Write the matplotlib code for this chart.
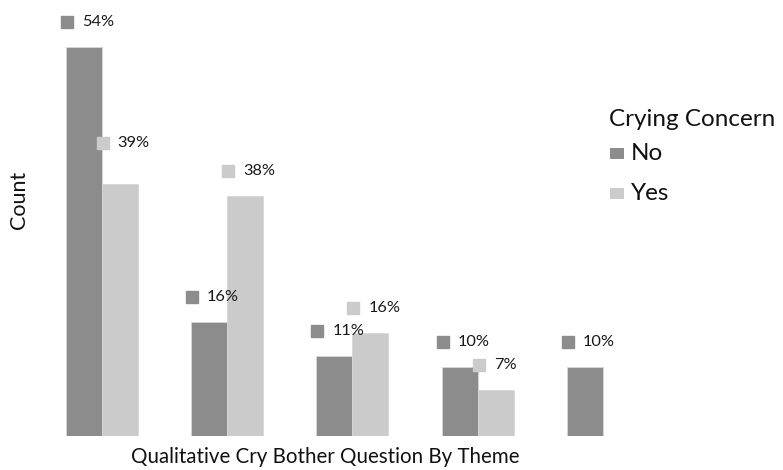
import matplotlib.pyplot as plt
from matplotlib.transforms import offset_copy
from matplotlib.patches import Rectangle
import numpy as np

plt.rcParams['font.family'] = ['Lato', 'DejaVu Sans']

# counts per theme for each concern group
themes = ['1', '2', '3', '4', '5']
no_counts = [34, 10, 7, 6, 6]
yes_counts = [22, 21, 9, 4, 0]
series = [('No', no_counts, '#8c8c8c'), ('Yes', yes_counts, '#cbcbcb')]

W, H = 783, 470
fig = plt.figure(figsize=(W / 100, H / 100), dpi=100)
ax = fig.add_axes([0.0498, 0.0723, 0.8006, 0.881])

x = np.arange(len(themes))
w = 0.287

for k, (name, counts, col) in enumerate(series):
    pos = x - w / 2 + k * w
    ax.bar(pos, counts, width=w, color=col, edgecolor='#d6d6d6', linewidth=0.6)
    total = sum(counts)
    for i, c in enumerate(counts):
        if c == 0:
            continue
        pct = round(c / total * 100)
        lift = 30 if (k == 1 and i == 0) else 18
        left = pos[i] - w / 2
        sq = offset_copy(ax.transData, fig=fig, x=0.7, y=lift, units='points')
        ax.plot([left], [c], marker='s', markersize=8, color=col,
                transform=sq, clip_on=False)
        ax.annotate(f'{pct}%', (left, c), xytext=(11.5, lift),
                    textcoords='offset points', ha='left', va='center',
                    fontsize=11.8, color='#1a1a1a', annotation_clip=False)

ax.set_xlim(-0.5, len(themes) - 0.5)
ax.set_ylim(0, 36.2)
ax.axis('off')

fig.text(325 / W, 0.028, 'Qualitative Cry Bother Question By Theme',
         ha='center', va='center', fontsize=14.8, color='#111111')
fig.text(19 / W, 0.575, 'Count', rotation=90, ha='center', va='center',
         fontsize=15.5, color='#111111')

# legend drawn by hand: title, then one swatch + label per series
fig.text(609 / W, 1 - 120 / H, 'Crying Concern', ha='left', va='center',
         fontsize=17.5, color='#111111')
for j, (name, _, col) in enumerate(series):
    yc = 153 + 41 * j
    fig.patches.append(Rectangle((610 / W, 1 - (yc + 5.5) / H), 14 / W, 11 / H,
                                 transform=fig.transFigure, facecolor=col,
                                 edgecolor='none'))
    fig.text(631 / W, 1 - yc / H, name, ha='left', va='center',
             fontsize=17.5, color='#111111')

fig.savefig('out.png', dpi=100)
